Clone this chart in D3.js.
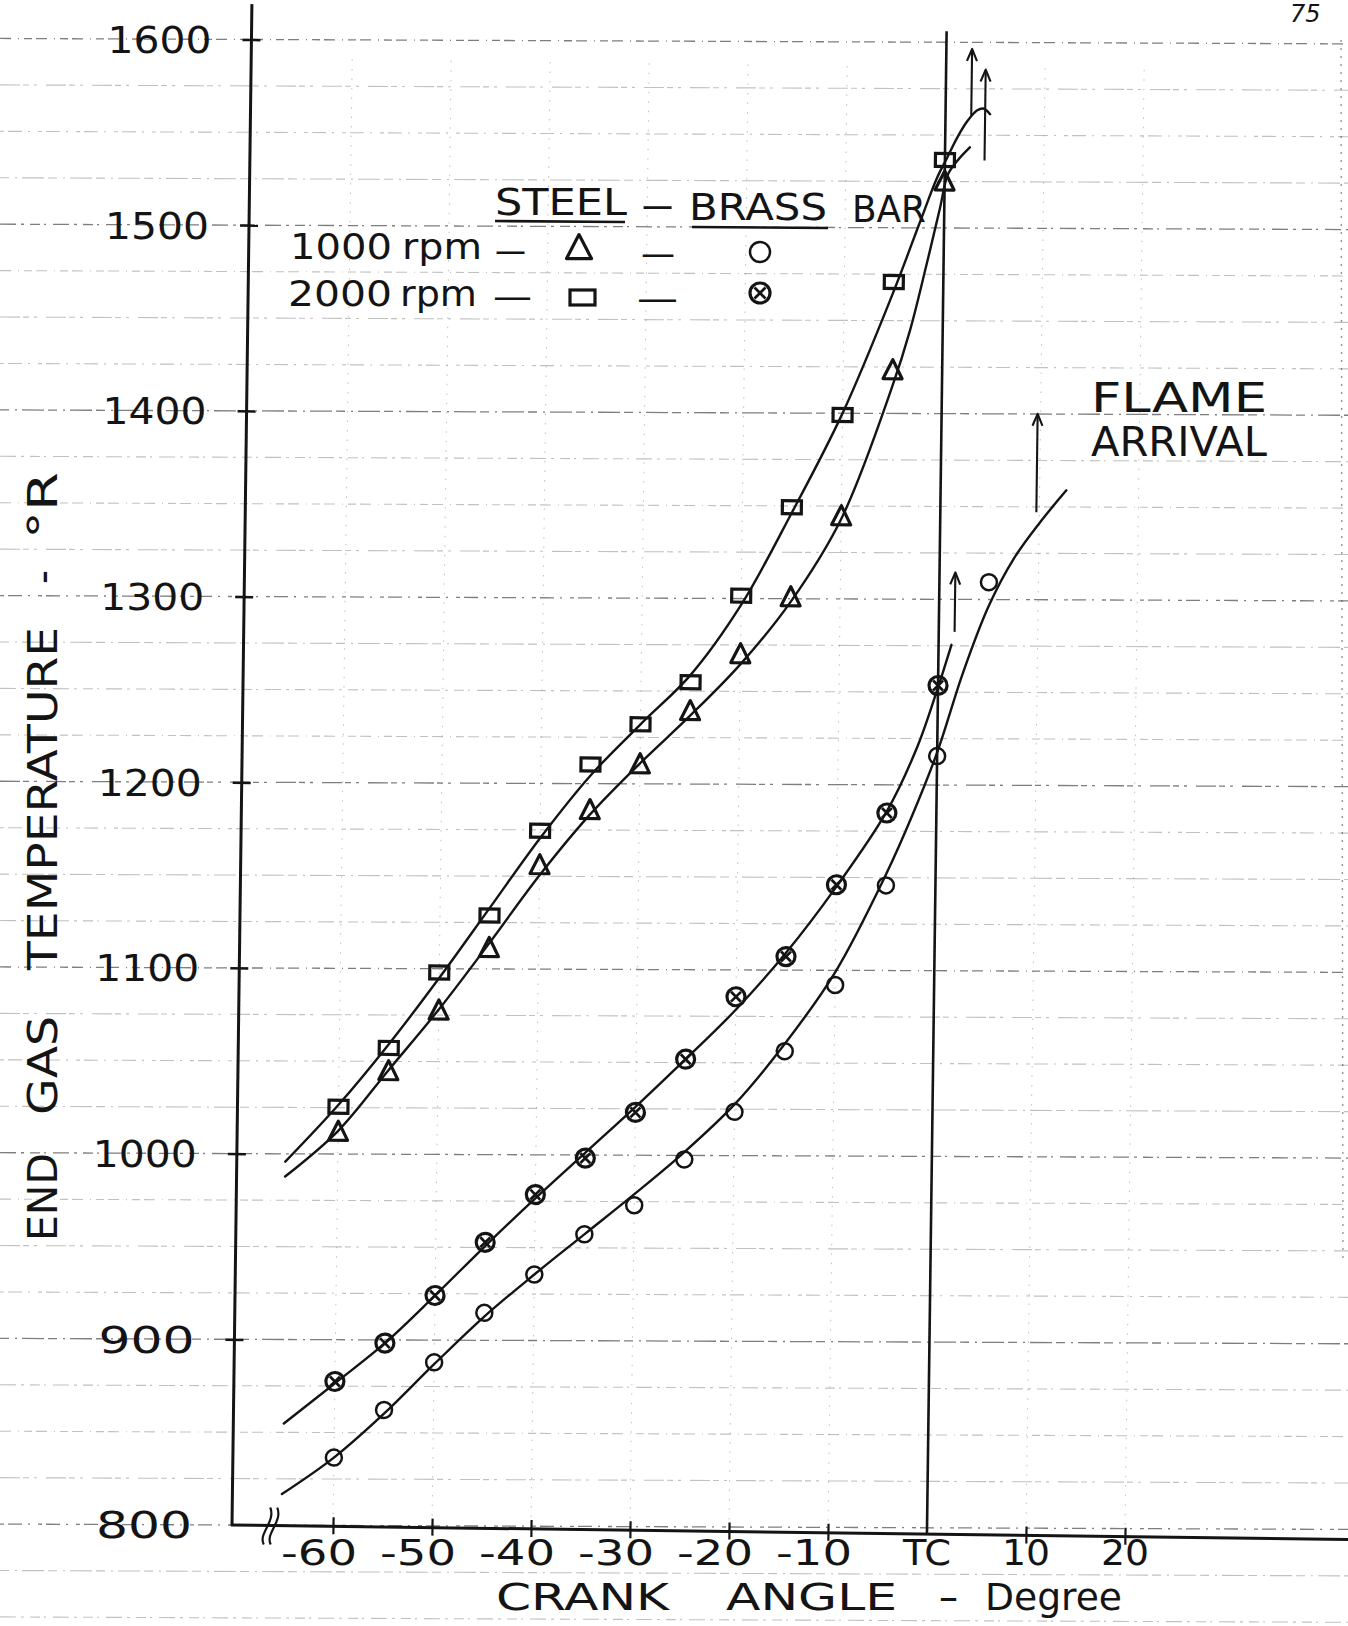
<!DOCTYPE html>
<html>
<head>
<meta charset="utf-8">
<script src="https://cdn.jsdelivr.net/npm/d3@7"></script>
<style>
  html, body { margin: 0; padding: 0; background: #fff; }
  svg { display: block; }
  text { font-family: "DejaVu Sans", sans-serif; fill: #141414; }
</style>
</head>
<body>
<svg id="chart" width="1348" height="1626"></svg>
<script>
// ---------------- data ----------------
// crank angle of each measured point (degrees, TC = 0)
const crankAngles = [-60, -55, -50, -45, -40, -35, -30, -25, -20, -15, -10, -5, 0];
const brassAngles1000 = [-60, -55, -50, -45, -40, -35, -30, -25, -20, -15, -10, -5, 0, 5];

// end gas temperature, deg R
const steel2000 = [1026, 1058, 1099, 1130, 1176, 1212, 1234, 1257, 1304, 1352, 1402, 1474, 1540];
const steel1000 = [1012, 1045, 1078, 1112, 1157, 1187, 1212, 1241, 1272, 1303, 1347, 1426, 1528];
const brass2000 = [878, 899, 925, 954, 980, 1000, 1025, 1054, 1088, 1110, 1149, 1188, 1257];
const brass1000 = [837, 863, 889, 916, 937, 959, 975, 1000, 1026, 1059, 1095, 1149, 1219, 1313];

// faired curves through the points: [crank angle, temperature]
const steel2000Curve = [[-65.3, 996], [-60, 1027], [-55, 1060], [-50, 1096], [-45, 1134], [-40, 1172],
  [-35, 1206], [-30, 1234], [-25, 1261], [-20, 1299], [-15, 1349], [-10, 1403], [-5, 1469],
  [-2.4, 1507], [-0.8, 1530], [0.2, 1541], [1.2, 1552], [2.2, 1561], [3.2, 1567], [3.8, 1568], [4.5, 1565]];
const steel1000Curve = [[-65.3, 988], [-60, 1013], [-55, 1046], [-50, 1079], [-45, 1115], [-40, 1152],
  [-35, 1185], [-30, 1213], [-25, 1239], [-20, 1267], [-15, 1301], [-10, 1346], [-5, 1418],
  [-3.3, 1448], [-1.7, 1484], [-0.4, 1515], [0.3, 1532], [1.3, 1540], [2.5, 1547]];
const brass2000Curve = [[-65.1, 855], [-60, 877], [-55, 899], [-50, 925], [-45, 952], [-40, 978],
  [-35, 1003], [-30, 1028], [-25, 1054], [-20, 1081], [-15, 1112], [-10, 1148], [-5, 1189],
  [-2, 1224], [0, 1256], [1.3, 1279]];
const brass1000Curve = [[-65.2, 817], [-60, 837], [-55, 861], [-50, 888], [-45, 914], [-40, 937],
  [-35, 959], [-30, 981], [-25, 1004], [-20, 1030], [-15, 1063], [-10, 1102], [-5, 1155],
  [-2.5, 1186], [0, 1221], [2.5, 1264], [5, 1300], [7.5, 1326], [10, 1345], [12.7, 1363]];

// flame arrival markers: [crank angle, from temperature, to temperature]
const flameArrows = [[2.6, 1564, 1600], [4.0, 1540, 1589], [1.6, 1286, 1318], [9.7, 1351, 1404]];

// axes
const tempTicks = [800, 900, 1000, 1100, 1200, 1300, 1400, 1500, 1600];
const angleTicks = [-60, -50, -40, -30, -20, -10, 0, 10, 20];
const angleTickLabels = ["-60", "-50", "-40", "-30", "-20", "-10", "TC", "10", "20"];

// ---------------- layout ----------------
const svg = d3.select("#chart");
const W = 1348, H = 1626;
const PX = 232, PY = 1525;          // axis corner
const TILT = 0.75;                   // the hand-ruled axes lean slightly clockwise
const rad = TILT * Math.PI / 180, S = Math.sin(rad), C = Math.cos(rad);
const rot = (px, py) => { const dx = px - PX, dy = py - PY; return [PX + dx * C - dy * S, PY + dx * S + dy * C]; };

const x = d3.scaleLinear().domain([-60, 20]).range([333, 1125]);
const y = d3.scaleLinear().domain([800, 1600]).range([PY, 39.4]);

const INK = "#141414";

svg.append("rect").attr("width", W).attr("height", H).attr("fill", "#fff");

// ---------------- graph paper ----------------
const paper = svg.append("g");
const dashSets = ["16 5 3 6 10 4 2 7", "9 6 2 5 22 4", "4 4 14 6 2 8", "20 3 6 5 3 9", "11 7 1 5 8 4"];
d3.range(750, 1626, 25).forEach((v, i) => {
  const yy = y(v);
  const major = v % 100 === 0;
  paper.append("line")
    .attr("x1", 0).attr("y1", yy - PX * 0.004)
    .attr("x2", W).attr("y2", yy + (W - PX) * 0.004)
    .attr("stroke", major ? "#2a2a2a" : "#666")
    .attr("stroke-width", major ? 1.3 : 1.1)
    .attr("opacity", major ? 0.6 : 0.4)
    .attr("stroke-dasharray", dashSets[i % dashSets.length]);
});
paper.append("line").attr("x1", 1341).attr("y1", 40).attr("x2", 1343).attr("y2", 1260)
  .attr("stroke", "#444").attr("stroke-width", 1.3).attr("stroke-dasharray", "2 6").attr("opacity", 0.6);

// ---------------- plot (tilted with the ruled axes) ----------------
const plot = svg.append("g").attr("transform", `rotate(${TILT},${PX},${PY})`);

// faint dotted columns of the ruling
plot.append("g").selectAll("line").data(angleTicks.filter(a => a !== 0)).join("line")
  .attr("x1", d => x(d)).attr("x2", d => x(d))
  .attr("y1", y(1590)).attr("y2", PY)
  .attr("stroke", "#666").attr("stroke-width", 1).attr("stroke-dasharray", "1.5 8").attr("opacity", 0.4);

// axis lines
plot.append("line").attr("x1", PX).attr("y1", 4).attr("x2", PX).attr("y2", PY + 1)
  .attr("stroke", INK).attr("stroke-width", 3);
plot.append("line").attr("x1", PX - 1).attr("y1", PY).attr("x2", 1365).attr("y2", PY)
  .attr("stroke", INK).attr("stroke-width", 3);

// tick crosses
const yAxis = plot.append("g").attr("transform", `translate(${PX},0)`)
  .call(d3.axisLeft(y).tickValues(tempTicks.filter(v => v > 800)).tickFormat("").tickSizeInner(9).tickSizeOuter(0));
yAxis.select(".domain").remove();
yAxis.selectAll(".tick line").attr("x1", -9).attr("x2", 9).attr("stroke", INK).attr("stroke-width", 2.5);

const xAxis = plot.append("g").attr("transform", `translate(0,${PY})`)
  .call(d3.axisBottom(x).tickValues(angleTicks.filter(a => a !== 0)).tickFormat("").tickSizeInner(8).tickSizeOuter(0));
xAxis.select(".domain").remove();
xAxis.selectAll(".tick line").attr("y1", -9).attr("y2", 8).attr("stroke", INK).attr("stroke-width", 2.2);

// axis break mark
[0, 7].forEach(k => {
  plot.append("path")
    .attr("d", `M${264 + k},${1544} C${258 + k},${1533} ${276 + k},${1521} ${270 + k},${1507}`)
    .attr("fill", "none").attr("stroke", INK).attr("stroke-width", 2.2);
});

// top-centre line
plot.append("line").attr("x1", x(0)).attr("x2", x(0)).attr("y1", 22).attr("y2", PY)
  .attr("stroke", INK).attr("stroke-width", 2.6);

// faired curves
const line = d3.line().x(d => x(d[0])).y(d => y(d[1])).curve(d3.curveCatmullRom.alpha(0.5));
[steel2000Curve, steel1000Curve, brass2000Curve, brass1000Curve].forEach(c => {
  plot.append("path").attr("d", line(c)).attr("fill", "none")
    .attr("stroke", INK).attr("stroke-width", 2.4).attr("stroke-linecap", "round");
});

// flame arrival arrows
flameArrows.forEach(([a, t0, t1]) => {
  const xx = x(a), y0 = y(t0), y1 = y(t1);
  plot.append("line").attr("x1", xx).attr("x2", xx).attr("y1", y0).attr("y2", y1 + 1)
    .attr("stroke", INK).attr("stroke-width", 2.1);
  plot.append("path").attr("d", `M${xx - 5},${y1 + 12} L${xx},${y1} L${xx + 5},${y1 + 12}`)
    .attr("fill", "none").attr("stroke", INK).attr("stroke-width", 2.1).attr("stroke-linejoin", "round");
});

// marker shapes
function squareMark(g, cx, cy, w, h, sw) {
  g.append("rect").attr("x", cx - w / 2).attr("y", cy - h / 2).attr("width", w).attr("height", h)
    .attr("fill", "none").attr("stroke", INK).attr("stroke-width", sw);
}
function triangleMark(g, cx, cy, w, h, sw) {
  g.append("path").attr("d", `M${cx},${cy - h * 0.6} L${cx + w / 2},${cy + h * 0.4} L${cx - w / 2},${cy + h * 0.4} Z`)
    .attr("fill", "none").attr("stroke", INK).attr("stroke-width", sw).attr("stroke-linejoin", "round");
}
function circleMark(g, cx, cy, r, sw) {
  g.append("circle").attr("cx", cx).attr("cy", cy).attr("r", r)
    .attr("fill", "none").attr("stroke", INK).attr("stroke-width", sw);
}
function otimesMark(g, cx, cy, r, sw) {
  circleMark(g, cx, cy, r, sw);
  const k = r * 0.55;
  g.append("path").attr("d", `M${cx - k},${cy - k} L${cx + k},${cy + k} M${cx + k},${cy - k} L${cx - k},${cy + k}`)
    .attr("stroke", INK).attr("stroke-width", sw * 0.85);
}

const marks = plot.append("g");
d3.zip(crankAngles, steel2000).forEach(([a, t]) => squareMark(marks, x(a), y(t), 19, 13, 3.2));
d3.zip(crankAngles, steel1000).forEach(([a, t]) => triangleMark(marks, x(a), y(t), 19, 19, 3.2));
d3.zip(crankAngles, brass2000).forEach(([a, t]) => otimesMark(marks, x(a), y(t), 9, 3.2));
d3.zip(brassAngles1000, brass1000).forEach(([a, t]) => circleMark(marks, x(a), y(t), 8, 2.5));

// ---------------- lettering ----------------
const txt = svg.append("g");
function put(str, xx, yy, size, len, anchor, extra) {
  const t = txt.append("text").attr("x", xx).attr("y", yy).attr("font-size", size)
    .attr("text-anchor", anchor || "start").text(str);
  if (len) t.attr("textLength", len).attr("lengthAdjust", "spacingAndGlyphs");
  if (extra) extra(t);
  return t;
}

// temperature tick labels
tempTicks.forEach(v => {
  const p = rot(PX - 40, y(v));
  put(String(v), p[0], p[1] + 14, 37, String(v).length === 4 ? 104 : 96, "end");
});

// crank angle tick labels
angleTicks.forEach((a, i) => {
  const lab = angleTickLabels[i];
  if (lab === "TC") put(lab, x(a), 1565, 36, 48, "middle");
  else put(lab, x(a) + 24, 1565, 36, lab.length === 3 ? 76 : 48, "end");
});

// axis titles
put("CRANK", 496, 1610, 37, 173);
put("ANGLE", 726, 1610, 37, 171);
put("-", 938, 1610, 37, 21);
put("Degree", 985, 1610, 37, 137);

[["END", 1241, 88], ["GAS", 1115, 99], ["TEMPERATURE", 970, 343], ["-", 584, 14], ["°R", 539, 67]]
  .forEach(([s, yy, len]) => {
    txt.append("text").attr("transform", `translate(57,${yy}) rotate(-90)`)
      .attr("font-size", 41).attr("textLength", len).attr("lengthAdjust", "spacingAndGlyphs").text(s);
  });

// legend
put("STEEL", 495, 215, 37, 132);
put("—", 642, 218, 37, 31);
put("BRASS", 689, 220, 37, 138);
put("BAR", 852, 222, 37, 74);
svg.append("line").attr("x1", 495).attr("y1", 221).attr("x2", 625).attr("y2", 222).attr("stroke", INK).attr("stroke-width", 2.6);
svg.append("line").attr("x1", 692).attr("y1", 227).attr("x2", 828).attr("y2", 228).attr("stroke", INK).attr("stroke-width", 2.6);

put("1000", 290, 259, 36, 102);
put("rpm", 402, 259, 36, 80);
put("—", 495, 263, 36, 31);
put("—", 641, 266, 36, 34);
put("2000", 288, 306, 36, 104);
put("rpm", 400, 306, 36, 77);
put("—", 493, 309, 36, 39);
put("—", 637, 311, 36, 41);

const legendMarks = svg.append("g");
triangleMark(legendMarks, 579, 249, 25, 24, 3.2);
circleMark(legendMarks, 760, 252, 10, 2.5);
squareMark(legendMarks, 582.5, 297.5, 25, 15, 3.2);
otimesMark(legendMarks, 760, 293, 10, 3.2);

// flame arrival note
put("FLAME", 1091, 412, 40, 176);
put("ARRIVAL", 1091, 456, 40, 176);

// sheet number
put("75", 1290, 22, 24, null, "start", t => t.attr("font-style", "italic"));
</script>
</body>
</html>
